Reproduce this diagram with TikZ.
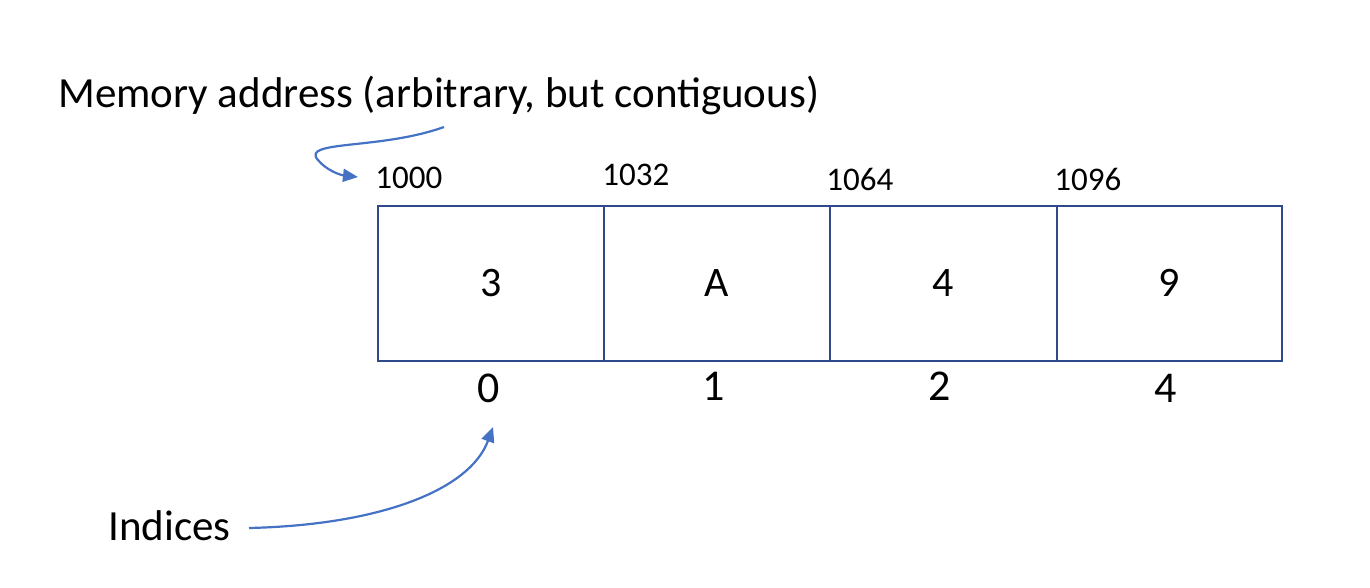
\documentclass[tikz,border=0pt]{standalone}
\usepackage{fontspec}
\setmainfont{Carlito}
\usetikzlibrary{arrows.meta}
\definecolor{boxblue}{HTML}{2F4A8A}
\definecolor{arrblue}{HTML}{4472C4}
\begin{document}
\begin{tikzpicture}[x=0.5pt,y=-0.5pt,
  cell/.style={draw=boxblue,line width=0.8pt,minimum width=113pt,minimum height=77.5pt,inner sep=0pt,font=\fontsize{21}{25}\selectfont,anchor=north west},
  addr/.style={font=\fontsize{16.5}{19}\selectfont,anchor=base west,inner sep=0pt},
  idx/.style={font=\fontsize{22}{26}\selectfont,anchor=base,inner sep=0pt},
  lbl/.style={font=\fontsize{21.5}{26}\selectfont,anchor=base west,inner sep=0pt},
  arr/.style={draw=arrblue,line width=1.1pt,-{Triangle[length=7.5pt,width=6.5pt]}}]
\useasboundingbox (0,0) rectangle (1370,588);
\node[cell,minimum width=113pt] (c0) at (377,205) {3};
\node[cell] (c1) at (603,205) {A};
\node[cell,minimum width=113.5pt] (c2) at (829,205) {4};
\node[cell,minimum width=112.5pt] (c3) at (1056,205) {9};
\node[addr] (a0) at (375,189) {1000};
\node[addr] (a1) at (602,186) {1032};
\node[addr] (a2) at (826,191) {1064};
\node[addr] (a3) at (1054,191) {1096};
\node[idx] (i0) at (489,402) {0};
\node[idx] (i1) at (714,400) {1};
\node[idx] (i2) at (940,400) {2};
\node[idx] (i3) at (1166,402) {4};
\node[lbl] (mem) at (58,108) {Memory address (arbitrary, but contiguous)};
\node[lbl] (ind) at (108,540) {Indices};
\coordinate (m1) at (444,127);
\coordinate (m2) at (358,177);
\coordinate (n1) at (249,528);
\coordinate (n2) at (493,427);
\draw[arr] (m1) .. controls (380,150) and (300,140) .. (318,160) .. controls (326,170) and (340,175) .. (m2);
\draw[arr] (n1) .. controls (380,525) and (470,490) .. (n2);
\end{tikzpicture}
\end{document}
